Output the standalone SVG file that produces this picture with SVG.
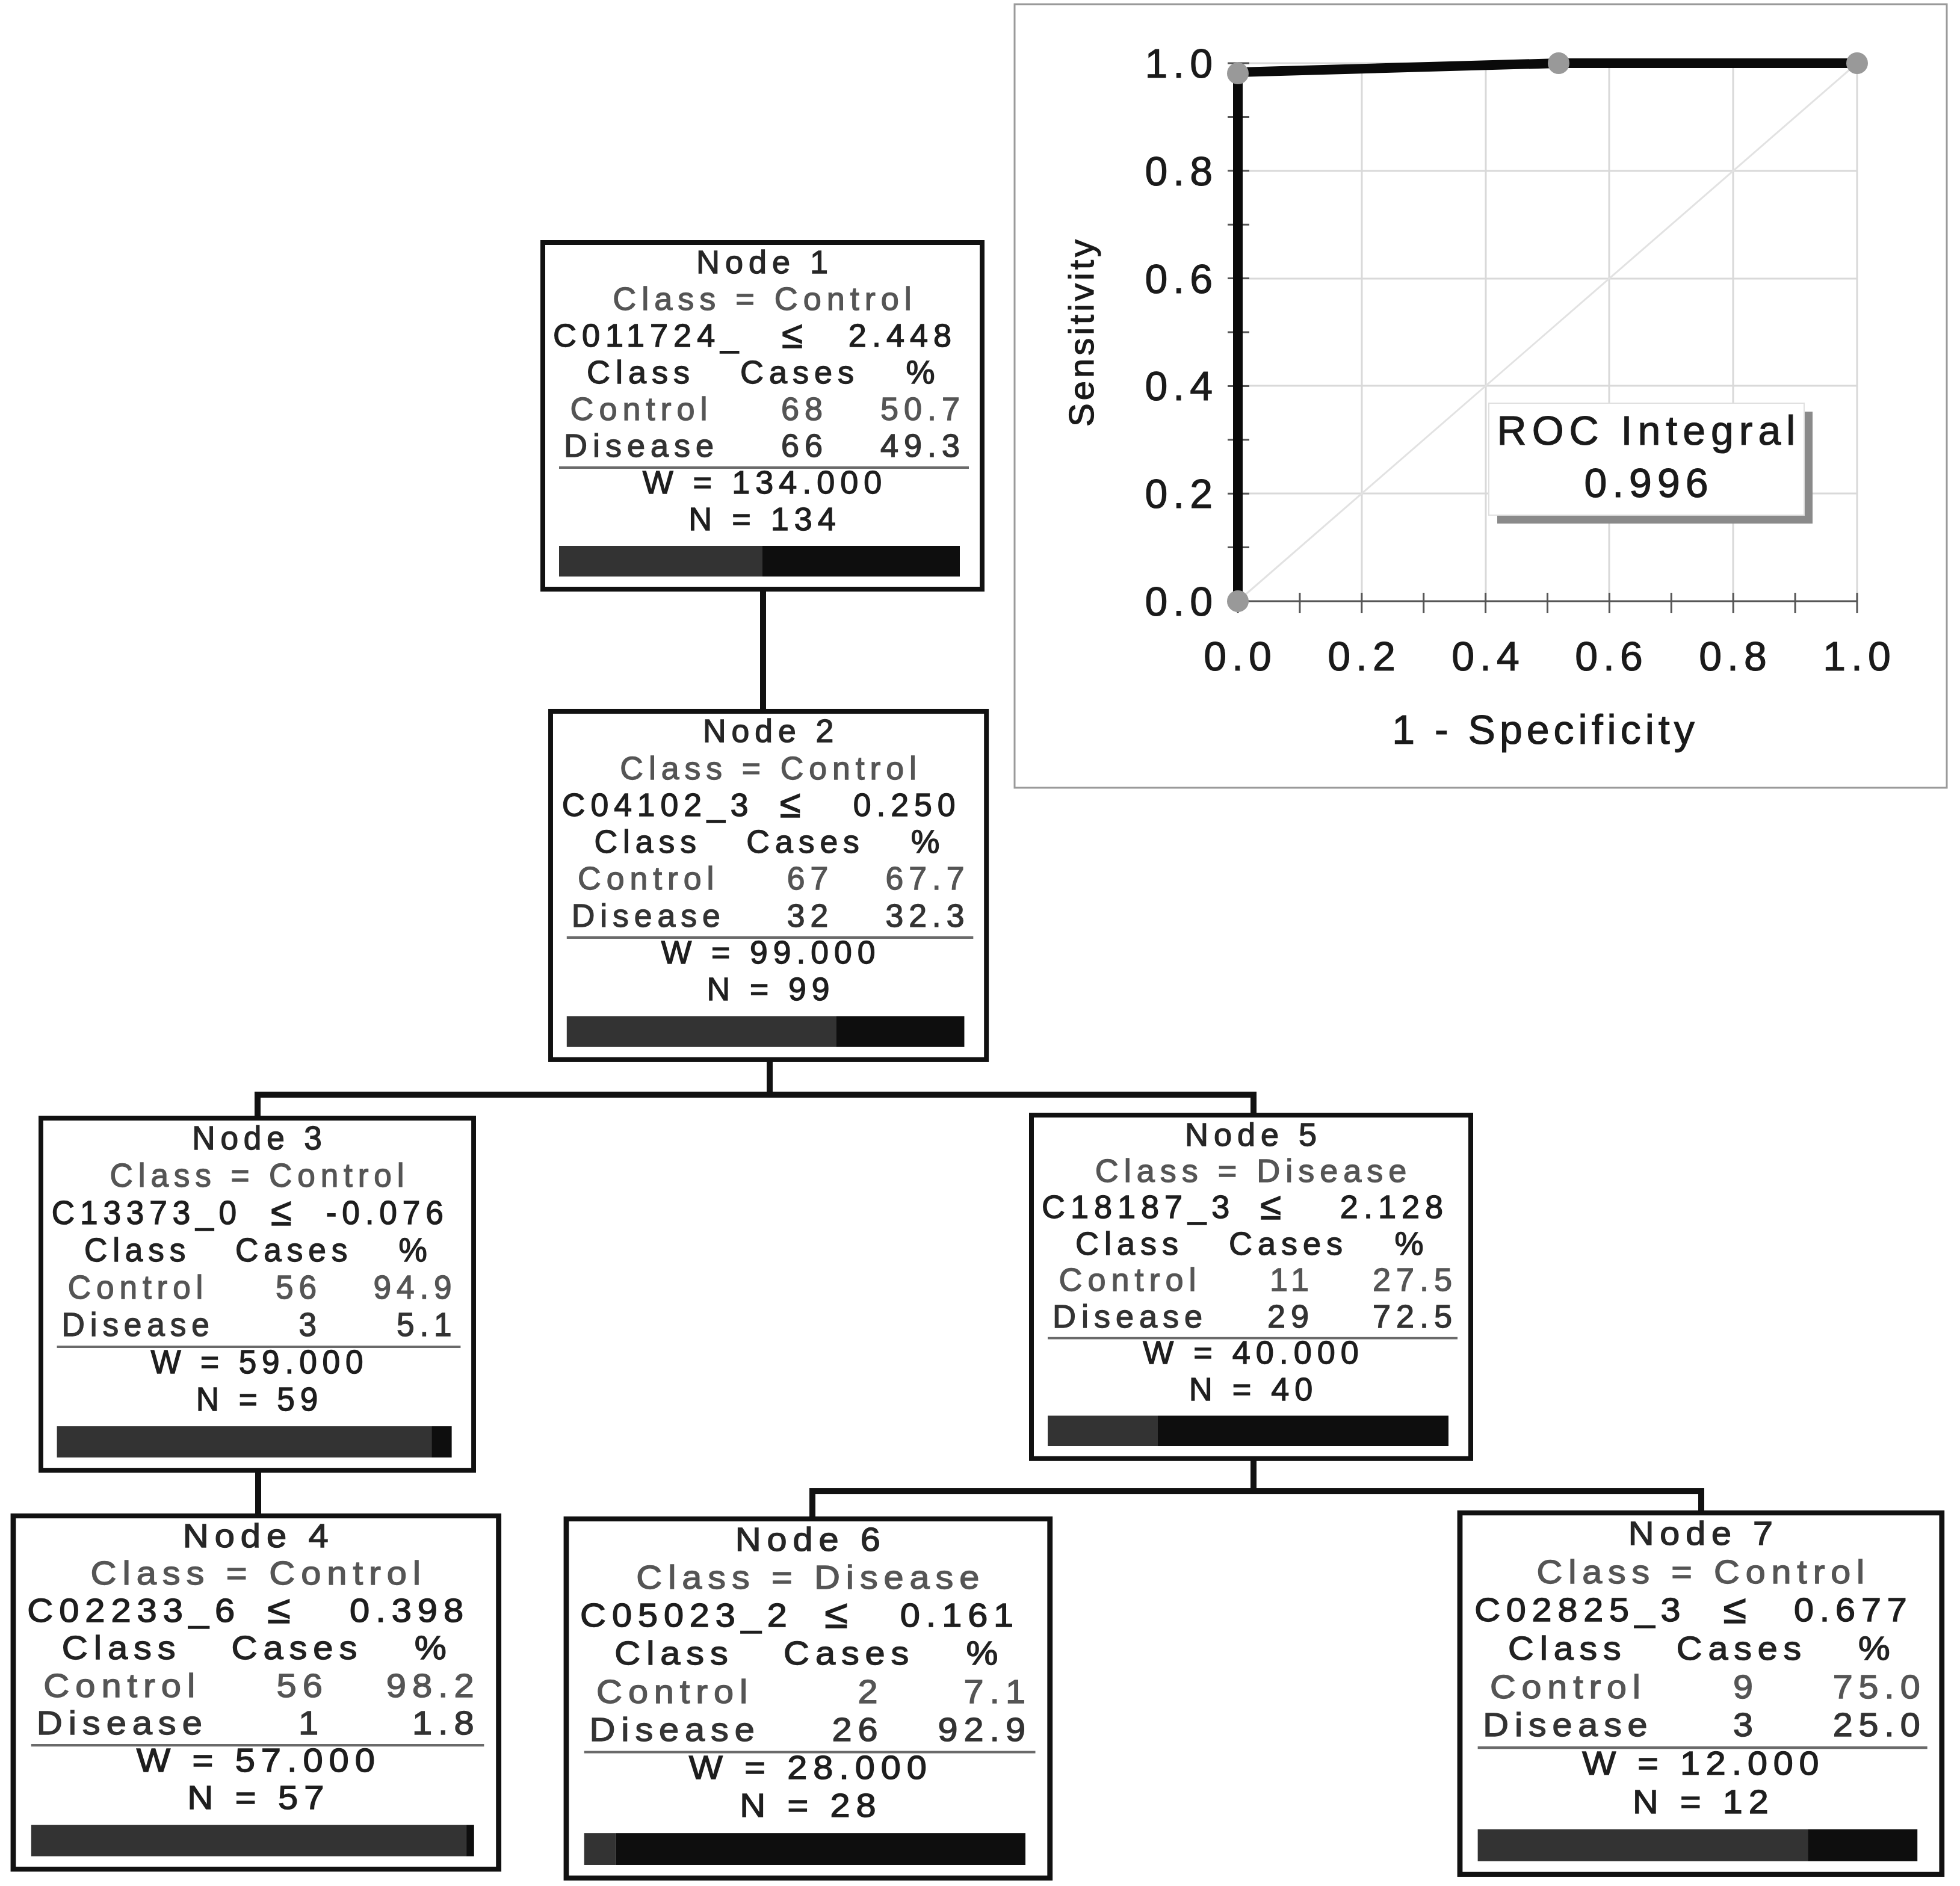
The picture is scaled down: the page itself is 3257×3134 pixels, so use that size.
<svg xmlns="http://www.w3.org/2000/svg" width="3257" height="3134" viewBox="0 0 3257 3134">
<style>
.t{font-family:"Liberation Sans",Arial,sans-serif;font-size:54px;letter-spacing:9px;stroke-width:1.4px}
.le{font-size:64px}
.m{text-anchor:middle}.e{text-anchor:end}
.ttl{fill:#262626;stroke:#262626}.cls{fill:#555;stroke:#555}.spl{fill:#1e1e1e;stroke:#1e1e1e}.hd{fill:#222;stroke:#222}.ctl{fill:#555;stroke:#555}.dis{fill:#333;stroke:#333}.wn{fill:#1e1e1e;stroke:#1e1e1e}
.box{fill:#fff;stroke:#111;stroke-width:8}
.sep{stroke:#6a6a6a;stroke-width:4}
.barL{fill:#333}.barR{fill:#0e0e0e}
.conn{stroke:#111;stroke-width:10;fill:none;stroke-linecap:square}
.r{font-family:"Liberation Sans",Arial,sans-serif;font-size:68px;letter-spacing:9px;fill:#1a1a1a;stroke:#1a1a1a;stroke-width:1.2px}
.grid{stroke:#d9d9d9;stroke-width:3;fill:none}
.tick{stroke:#555;stroke-width:3;fill:none}
.pt{fill:#999}
</style>
<rect width="3257" height="3134" fill="#fff"/>

<g id="roc">
<rect x="1686" y="7" width="1549" height="1302" fill="#fff" stroke="#9a9a9a" stroke-width="3"/>
<path class="grid" d="M2263 105V999M2469 105V999M2674 105V999M2880 105V999M3086 105V999M2057 820H3086M2057 641H3086M2057 463H3086M2057 284H3086M2057 105H3086"/>
<path d="M2057 999L3086 105" stroke="#e2e2e2" stroke-width="3"/>
<path class="tick" d="M2057 999H3086M2057 999V105"/>
<path class="tick" d="M2040 999H2076M2040 909.6H2076M2040 820.2H2076M2040 730.8H2076M2040 641.4H2076M2040 552H2076M2040 462.6H2076M2040 373.2H2076M2040 283.8H2076M2040 194.4H2076M2040 105H2076"/>
<path class="tick" d="M2057 985V1019M2159.9 985V1019M2262.8 985V1019M2365.7 985V1019M2468.6 985V1019M2571.5 985V1019M2674.4 985V1019M2777.3 985V1019M2880.2 985V1019M2983.1 985V1019M3086 985V1019"/>
<path d="M2057 999V120L2590 105H3086" stroke="#0a0a0a" stroke-width="16" fill="none"/>
<circle class="pt" cx="2057" cy="999" r="18"/>
<circle class="pt" cx="2057" cy="122" r="18"/>
<circle class="pt" cx="2590" cy="105" r="18"/>
<circle class="pt" cx="3086" cy="105" r="18"/>
<text class="r e" x="2024" y="129">1.0</text>
<text class="r e" x="2024" y="308">0.8</text>
<text class="r e" x="2024" y="487">0.6</text>
<text class="r e" x="2024" y="665">0.4</text>
<text class="r e" x="2024" y="844">0.2</text>
<text class="r e" x="2024" y="1023">0.0</text>
<text class="r m" x="2061" y="1114">0.0</text>
<text class="r m" x="2267" y="1114">0.2</text>
<text class="r m" x="2473" y="1114">0.4</text>
<text class="r m" x="2678" y="1114">0.6</text>
<text class="r m" x="2884" y="1114">0.8</text>
<text class="r m" x="3090" y="1114">1.0</text>
<text class="r m" style="letter-spacing:7px" x="2568" y="1236">1 - Specificity</text>
<text class="r m" style="font-size:58px;letter-spacing:5px" transform="translate(1817,551) rotate(-90)">Sensitivity</text>
<rect x="2488" y="684" width="524" height="186" fill="#8a8a8a"/>
<rect x="2474" y="670" width="524" height="186" fill="#fff" stroke="#e0e0e0" stroke-width="2"/>
<text class="r m" x="2740" y="739">ROC Integral</text>
<text class="r m" x="2740" y="826">0.996</text>
</g>

<g id="connectors">
<path class="conn" d="M1268 979V1182"/>
<path class="conn" d="M1279 1761V1819"/>
<path class="conn" d="M428 1858V1819H2083V1853"/>
<path class="conn" d="M429 2443V2519"/>
<path class="conn" d="M2083 2424V2478"/>
<path class="conn" d="M1350 2524V2478H2827V2514"/>
</g>

<g id="node1" transform="translate(902,403)">
<rect class="box" width="730" height="576"/>
<text class="t m ttl" x="369" y="51">Node 1</text>
<text class="t m cls" x="369" y="112">Class = Control</text>
<text class="t spl" x="17" y="173">C011724_</text>
<text class="t le m spl" x="419" y="175">≤</text>
<text class="t e spl" x="688" y="173">2.448</text>
<text class="t m hd" x="163" y="234">Class</text>
<text class="t m hd" x="427" y="234">Cases</text>
<text class="t m hd" x="632" y="234">%</text>
<text class="t m ctl" x="164" y="295">Control</text>
<text class="t e ctl" x="474" y="295">68</text>
<text class="t e ctl" x="702" y="295">50.7</text>
<text class="t m dis" x="164" y="356">Disease</text>
<text class="t e dis" x="474" y="356">66</text>
<text class="t e dis" x="702" y="356">49.3</text>
<line class="sep" x1="27" y1="374" x2="708" y2="374"/>
<text class="t m wn" x="369" y="417">W = 134.000</text>
<text class="t m wn" x="369" y="478">N = 134</text>
<rect class="barL" x="27" y="504" width="338" height="51"/>
<rect class="barR" x="365" y="504" width="328" height="51"/>
</g>

<g id="node2" transform="translate(915,1182) scale(0.992,1.005)">
<rect class="box" width="730" height="576"/>
<text class="t m ttl" x="369" y="51">Node 2</text>
<text class="t m cls" x="369" y="112">Class = Control</text>
<text class="t spl" x="19" y="173">C04102_3</text>
<text class="t le m spl" x="406" y="175">≤</text>
<text class="t e spl" x="687" y="173">0.250</text>
<text class="t m hd" x="163" y="234">Class</text>
<text class="t m hd" x="427" y="234">Cases</text>
<text class="t m hd" x="632" y="234">%</text>
<text class="t m ctl" x="164" y="295">Control</text>
<text class="t e ctl" x="474" y="295">67</text>
<text class="t e ctl" x="702" y="295">67.7</text>
<text class="t m dis" x="164" y="356">Disease</text>
<text class="t e dis" x="474" y="356">32</text>
<text class="t e dis" x="702" y="356">32.3</text>
<line class="sep" x1="27" y1="374" x2="708" y2="374"/>
<text class="t m wn" x="369" y="417">W = 99.000</text>
<text class="t m wn" x="369" y="478">N = 99</text>
<rect class="barL" x="27" y="504" width="451" height="51"/>
<rect class="barR" x="478" y="504" width="215" height="51"/>
</g>

<g id="node3" transform="translate(68,1858) scale(0.985,1.016)">
<rect class="box" width="730" height="576"/>
<text class="t m ttl" x="369" y="51">Node 3</text>
<text class="t m cls" x="369" y="112">Class = Control</text>
<text class="t spl" x="18" y="173">C13373_0</text>
<text class="t le m spl" x="410" y="175">≤</text>
<text class="t e spl" x="688" y="173">-0.076</text>
<text class="t m hd" x="163" y="234">Class</text>
<text class="t m hd" x="427" y="234">Cases</text>
<text class="t m hd" x="632" y="234">%</text>
<text class="t m ctl" x="164" y="295">Control</text>
<text class="t e ctl" x="474" y="295">56</text>
<text class="t e ctl" x="702" y="295">94.9</text>
<text class="t m dis" x="164" y="356">Disease</text>
<text class="t e dis" x="474" y="356">3</text>
<text class="t e dis" x="702" y="356">5.1</text>
<line class="sep" x1="27" y1="374" x2="708" y2="374"/>
<text class="t m wn" x="369" y="417">W = 59.000</text>
<text class="t m wn" x="369" y="478">N = 59</text>
<rect class="barL" x="27" y="504" width="632" height="51"/>
<rect class="barR" x="659" y="504" width="34" height="51"/>
</g>

<g id="node5" transform="translate(1714,1853) scale(1,0.991)">
<rect class="box" width="730" height="576"/>
<text class="t m ttl" x="369" y="51">Node 5</text>
<text class="t m cls" x="369" y="112">Class = Disease</text>
<text class="t spl" x="17" y="173">C18187_3</text>
<text class="t le m spl" x="402" y="175">≤</text>
<text class="t e spl" x="693" y="173">2.128</text>
<text class="t m hd" x="163" y="234">Class</text>
<text class="t m hd" x="427" y="234">Cases</text>
<text class="t m hd" x="632" y="234">%</text>
<text class="t m ctl" x="164" y="295">Control</text>
<text class="t e ctl" x="470" y="295">11</text>
<text class="t e ctl" x="708" y="295">27.5</text>
<text class="t m dis" x="164" y="356">Disease</text>
<text class="t e dis" x="470" y="356">29</text>
<text class="t e dis" x="708" y="356">72.5</text>
<line class="sep" x1="27" y1="374" x2="708" y2="374"/>
<text class="t m wn" x="369" y="417">W = 40.000</text>
<text class="t m wn" x="369" y="478">N = 40</text>
<rect class="barL" x="27" y="504" width="183" height="51"/>
<rect class="barR" x="210" y="504" width="483" height="51"/>
</g>

<g id="node4" transform="translate(22,2519) scale(1.105,1.019)">
<rect class="box" width="730" height="576"/>
<text class="t m ttl" x="369" y="51">Node 4</text>
<text class="t m cls" x="369" y="112">Class = Control</text>
<text class="t spl" x="21" y="173">C02233_6</text>
<text class="t le m spl" x="404" y="175">≤</text>
<text class="t e spl" x="686" y="173">0.398</text>
<text class="t m hd" x="163" y="234">Class</text>
<text class="t m hd" x="427" y="234">Cases</text>
<text class="t m hd" x="632" y="234">%</text>
<text class="t m ctl" x="164" y="295">Control</text>
<text class="t e ctl" x="474" y="295">56</text>
<text class="t e ctl" x="702" y="295">98.2</text>
<text class="t m dis" x="164" y="356">Disease</text>
<text class="t e dis" x="468" y="356">1</text>
<text class="t e dis" x="702" y="356">1.8</text>
<line class="sep" x1="27" y1="374" x2="708" y2="374"/>
<text class="t m wn" x="369" y="417">W = 57.000</text>
<text class="t m wn" x="369" y="478">N = 57</text>
<rect class="barL" x="27" y="504" width="654" height="51"/>
<rect class="barR" x="681" y="504" width="12" height="51"/>
</g>

<g id="node6" transform="translate(941,2524) scale(1.101,1.036)">
<rect class="box" width="730" height="576"/>
<text class="t m ttl" x="369" y="51">Node 6</text>
<text class="t m cls" x="369" y="112">Class = Disease</text>
<text class="t spl" x="21" y="173">C05023_2</text>
<text class="t le m spl" x="412" y="175">≤</text>
<text class="t e spl" x="684" y="173">0.161</text>
<text class="t m hd" x="163" y="234">Class</text>
<text class="t m hd" x="427" y="234">Cases</text>
<text class="t m hd" x="632" y="234">%</text>
<text class="t m ctl" x="164" y="295">Control</text>
<text class="t e ctl" x="479" y="295">2</text>
<text class="t e ctl" x="702" y="295">7.1</text>
<text class="t m dis" x="164" y="356">Disease</text>
<text class="t e dis" x="479" y="356">26</text>
<text class="t e dis" x="702" y="356">92.9</text>
<line class="sep" x1="27" y1="374" x2="708" y2="374"/>
<text class="t m wn" x="369" y="417">W = 28.000</text>
<text class="t m wn" x="369" y="478">N = 28</text>
<rect class="barL" x="27" y="504" width="47" height="51"/>
<rect class="barR" x="74" y="504" width="619" height="51"/>
</g>

<g id="node7" transform="translate(2426,2514) scale(1.097,1.043)">
<rect class="box" width="730" height="576"/>
<text class="t m ttl" x="369" y="51">Node 7</text>
<text class="t m cls" x="369" y="112">Class = Control</text>
<text class="t spl" x="22" y="173">C02825_3</text>
<text class="t le m spl" x="421" y="175">≤</text>
<text class="t e spl" x="686" y="173">0.677</text>
<text class="t m hd" x="163" y="234">Class</text>
<text class="t m hd" x="427" y="234">Cases</text>
<text class="t m hd" x="632" y="234">%</text>
<text class="t m ctl" x="164" y="295">Control</text>
<text class="t e ctl" x="453" y="295">9</text>
<text class="t e ctl" x="706" y="295">75.0</text>
<text class="t m dis" x="164" y="356">Disease</text>
<text class="t e dis" x="453" y="356">3</text>
<text class="t e dis" x="706" y="356">25.0</text>
<line class="sep" x1="27" y1="374" x2="708" y2="374"/>
<text class="t m wn" x="369" y="417">W = 12.000</text>
<text class="t m wn" x="369" y="478">N = 12</text>
<rect class="barL" x="27" y="504" width="500" height="51"/>
<rect class="barR" x="527" y="504" width="166" height="51"/>
</g>
</svg>
